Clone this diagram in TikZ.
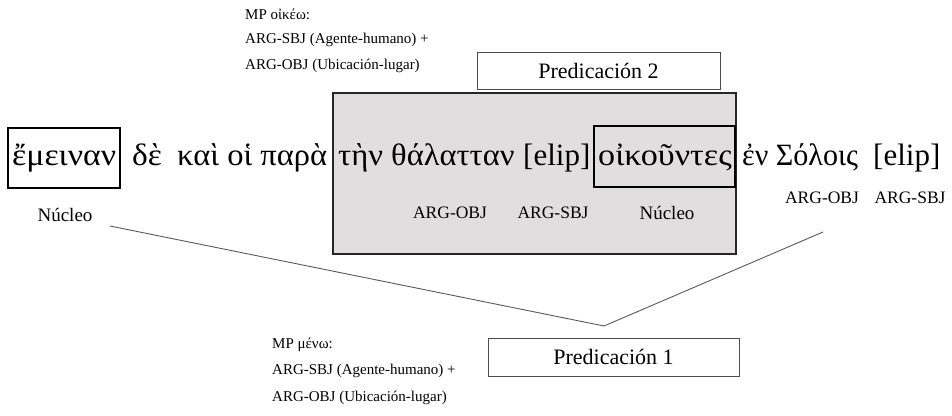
\documentclass[tikz,border=0pt]{standalone}
\usepackage{fontspec}
\usepackage{graphicx}
\setmainfont{Liberation Serif}
\tikzset{
  x=1pt,y=1pt,
  word/.style={anchor=base west,inner sep=0pt,font=\fontsize{31}{36}\selectfont},
  small/.style={anchor=west,inner sep=0pt,font=\fontsize{15}{17}\selectfont},
  lab/.style={inner sep=0pt,font=\fontsize{17.5}{20}\selectfont},
  nuc/.style={inner sep=0pt,font=\fontsize{19}{22}\selectfont},
  predbox/.style={draw=black!70,line width=0.9pt,inner sep=0pt,font=\fontsize{22}{26}\selectfont},
  headbox/.style={draw=black,line width=2.8pt,inner sep=0pt},
  graybox/.style={draw=black!85,line width=1.1pt,fill=grayfill,inner sep=0pt},
  link/.style={draw=black!65,line width=0.9pt}
}
\definecolor{grayfill}{HTML}{E0DEDF}
\begin{document}
\begin{tikzpicture}
\useasboundingbox (0,0) rectangle (952,415);
% top predicate frame
\node[small] (t1) at (245,401) {MP οἰκέω:};
\node[small] (t2) at (245,375) {ARG-SBJ (Agente-humano) +};
\node[small] (t3) at (245,349) {ARG-OBJ (Ubicación-lugar)};
\node[predbox,minimum width=243,minimum height=37] (p2) at (598.5,344.5) {Predicación 2};
% gray box
\node[graybox,minimum width=403,minimum height=161] (g) at (534.5,241.5) {};
% head boxes
\node[headbox,minimum width=112,minimum height=60] (h1) at (64,257) {};
\node[headbox,minimum width=141,minimum height=61] (h2) at (664.5,258.5) {};
% sentence
\node[word] (w1) at (12,249) {\scalebox{1.09}[1]{ἔμειναν}};
\node[word] (w2) at (132,249) {\scalebox{1.08}[1]{δὲ}};
\node[word] (w3) at (177,249) {\scalebox{1.05}[1]{καὶ οἱ παρὰ}};
\node[word] (w4) at (338,249) {\scalebox{1.05}[1]{τὴν θάλατταν}};
\node[word] (w5) at (523,249) {[elip]};
\node[word] (w6) at (598,249) {\scalebox{1.1}[1]{οἰκοῦντες}};
\node[word] (w7) at (742,249) {\scalebox{0.97}[1]{ἐν Σόλοις}};
\node[word] (w8) at (873,249) {[elip]};
% labels
\node[nuc] (n1) at (65,200) {Núcleo};
\node[lab] (a1) at (450,202) {ARG-OBJ};
\node[lab] (a2) at (553,202) {ARG-SBJ};
\node[nuc] (n2) at (667,202) {Núcleo};
\node[lab] (a3) at (822,217) {ARG-OBJ};
\node[lab] (a4) at (910,217) {ARG-SBJ};
% bottom predicate frame
\node[predbox,minimum width=251,minimum height=38] (p1) at (613.5,58) {Predicación 1};
\node[small] (b1) at (272,70) {MP μένω:};
\node[small] (b2) at (272,44) {ARG-SBJ (Agente-humano) +};
\node[small] (b3) at (272,17) {ARG-OBJ (Ubicación-lugar)};
% connector
\coordinate (cl) at (110,189);
\coordinate (cv) at (604,89);
\coordinate (cr) at (823,183);
\draw[link] (cl) -- (cv) -- (cr);
\end{tikzpicture}
\end{document}
